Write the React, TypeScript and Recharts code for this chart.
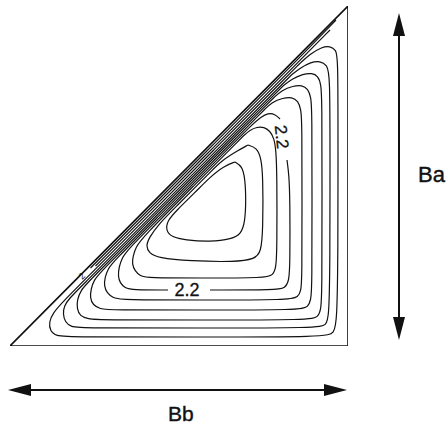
import React from 'react';
import { LineChart, Line, XAxis, YAxis, ReferenceDot } from 'recharts';

type P = { x: number; y: number };
const toPts = (a: number[][]): P[] => a.map(([x, y]) => ({ x, y }));

// Bb runs 0..338 (left to right), Ba runs 0..340 (bottom to top)
const triangle = [[0, 0], [338, 0], [338, 340], [0, 0]];

const contour1 = [[289.3,282],[300,292],[312,299],[320,300],[326,296],[328,288],[328,196],[328,96],[327,24],[324,13],[316,9],[190,9],[60,9],[46,10],[40,15],[39,24],[43,33],[52.7,44],[74.6,66],[134.3,126],[203.8,196],[273.4,266],[289.3,282]];
const contour2 = [[281.4,271],[290,278],[301,284],[310,285],[317,281],[320,272],[320,186],[320,86],[319,28],[316,21],[308,18],[190,18],[72,18],[61,19],[55,24],[53,32],[54,40],[59.7,48],[67.7,56],[137.3,126],[206.8,196],[281.4,271]];
const contour3 = [[273,260],[282,267],[293,272],[302,273],[308,270],[311,262],[312,246],[312,146],[312,56],[311,36],[308,29],[300,26],[190,26],[90,26],[78,27],[70,30],[67,37],[67,46],[71,56],[78.1,64],[139.8,126],[209.3,196],[273,260]];
const contour4 = [[263.5,248],[272,256],[283,260],[292,261],[298,257],[301,249],[302,234],[302,146],[302,61],[301,46],[298,39],[290,36],[190,36],[100,36],[90,37],[83,41],[80,48],[81,57],[84,66],[90.6,74],[142.3,126],[211.8,196],[263.5,248]];
const contour5 = [[254.1,236],[262,244],[273,248],[282,249],[288,245],[291,237],[292,222],[292,146],[292,68],[291,55],[288,49],[280,46],[190,46],[112,46],[103,48],[97,53],[94,60],[95,69],[98,77],[103,84],[144.8,126],[214.3,196],[254.1,236]];
// the 2.2 contour, broken at its two labels
const contour6a = [[277,186],[279,171],[280,146],[280,81],[279,65],[275,58],[267,56],[200,56]];
const contour6b = [[158,56],[122,56],[115,58],[110,63],[108,70],[109,79],[112,88],[117.4,96],[147.3,126],[216.8,196],[242.7,222],[251,229],[258,233],[265,232],[270,227]];
const contour7 = [[233.3,210],[240,216],[247,219],[254,219],[260,215],[264,208],[266,196],[267,171],[267,96],[266,78],[263,71],[256,68],[190,68],[138,68],[130,70],[125,75],[122,82],[123,90],[126,99],[131.9,108],[183.6,160],[233.3,210]];
const contour8 = [[238,201],[247,198],[251,188],[253,171],[253,116],[251,94],[245,87],[225,84],[180,85],[148,88],[139,93],[136,100],[139,108],[147.8,121],[167.7,141],[184.6,158],[200.5,174],[212.4,186],[229,196],[238,201]];
const contour9 = [[225,184],[232,180],[235,168],[236,146],[235,124],[231,112],[222,107],[200,104],[175,106],[162,109],[156,115],[157,125],[167,136],[184.5,153],[200,169],[214,180],[225,184]];
const edgeLine1 = [[80.5,78],[98.4,96],[187.9,186],[289.3,288],[326,326]];
const edgeLine2 = [[85.5,80],[101.4,96],[190.9,186],[292.3,288],[320,316]];

const contourLabelValue = '2.2';
const labelBottom = { x: 177, y: 56 };
const labelRight = { x: 272, y: 209 };
const labelSmall = { x: 72, y: 70, text: '2' };

const axisNameA = 'Ba';
const axisNameB = 'Bb';

const contours = [contour1, contour2, contour3, contour4, contour5, contour6a, contour6b, contour7, contour8, contour9, edgeLine1, edgeLine2];

const FONT = '"Liberation Sans", Arial, Helvetica, sans-serif';

export default function App() {
  return (
    <div style={{ position: 'absolute', left: 0, top: 0, width: 447, height: 428, background: '#fff' }}>
      <LineChart width={447} height={428} margin={{ top: 6, right: 99, bottom: 82, left: 10 }}>
        <XAxis type="number" dataKey="x" domain={[0, 338]} hide allowDataOverflow />
        <YAxis type="number" dataKey="y" domain={[0, 340]} hide allowDataOverflow />
        <Line data={toPts(triangle)} dataKey="y" type="linear" stroke="#111" strokeWidth={1.6} dot={false} isAnimationActive={false} />
        {contours.map((c, i) => (
          <Line key={i} data={toPts(c)} dataKey="y" type="basis" stroke="#111" strokeWidth={1.2} dot={false} isAnimationActive={false} strokeLinejoin="round" />
        ))}
        <ReferenceDot x={labelBottom.x} y={labelBottom.y} r={0}
          shape={(p: any) => (
            <text x={p.cx} y={p.cy} dy={6} textAnchor="middle" fontFamily={FONT} fontSize={18} fill="#111" stroke="#111" strokeWidth={0.3}>{contourLabelValue}</text>
          )} />
        <ReferenceDot x={labelRight.x} y={labelRight.y} r={0}
          shape={(p: any) => (
            <text x={p.cx} y={p.cy} dy={6} textAnchor="middle" fontFamily={FONT} fontSize={17} fill="#111" stroke="#111" strokeWidth={0.3} transform={`rotate(84 ${p.cx} ${p.cy})`}>{contourLabelValue}</text>
          )} />
        <ReferenceDot x={labelSmall.x} y={labelSmall.y} r={0}
          shape={(p: any) => (
            <text x={p.cx} y={p.cy} dy={3} textAnchor="middle" fontFamily={FONT} fontSize={9} fill="#111" transform={`rotate(-45 ${p.cx} ${p.cy})`}>{labelSmall.text}</text>
          )} />
      </LineChart>
      <svg width={447} height={428} style={{ position: 'absolute', left: 0, top: 0, pointerEvents: 'none' }}>
        <line x1={399} y1={30} x2={399} y2={323} stroke="#111" strokeWidth={2} />
        <polygon points="399,13 393,36 405,36" fill="#111" />
        <polygon points="399,340 393,317 405,317" fill="#111" />
        <line x1={28} y1={390} x2={328} y2={390} stroke="#111" strokeWidth={2} />
        <polygon points="8,390 31,384 31,396" fill="#111" />
        <polygon points="347,390 324,384 324,396" fill="#111" />
        <text x={418} y={182} fontFamily={FONT} fontSize={22} fill="#111" stroke="#111" strokeWidth={0.4}>{axisNameA}</text>
        <text x={168} y={421} fontFamily={FONT} fontSize={21} fill="#111" stroke="#111" strokeWidth={0.4}>{axisNameB}</text>
      </svg>
    </div>
  );
}
